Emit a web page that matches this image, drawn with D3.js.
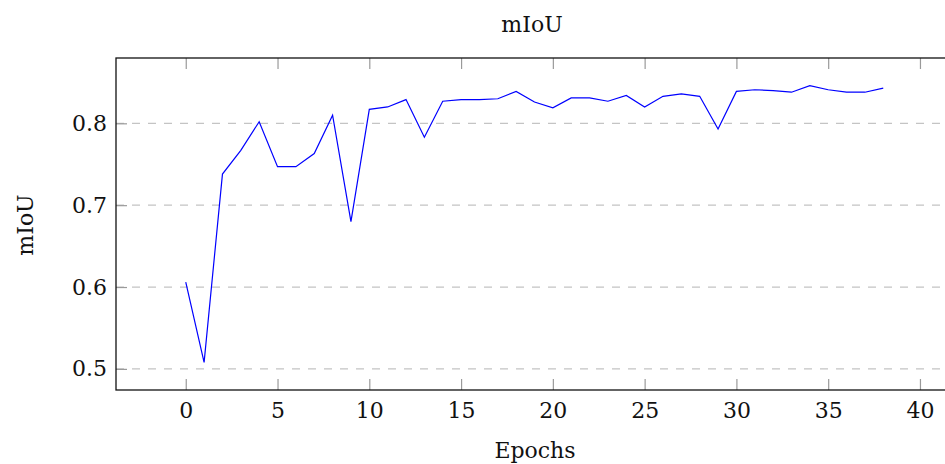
<!DOCTYPE html>
<html>
<head>
<meta charset="utf-8">
<script src="https://cdn.jsdelivr.net/npm/d3@7"></script>
<style>
  body { margin: 0; background: #fff; }
  svg text { font-family: "DejaVu Serif", "Liberation Serif", serif; fill: #111; }
</style>
</head>
<body>
<div id="g-container"></div>
<script>

	// mIoU per epoch
	var epochs = d3.range(0, 39);
	var miou = [0.606, 0.508, 0.738, 0.767, 0.802, 0.747, 0.747, 0.763, 0.810, 0.680,
		0.817, 0.820, 0.829, 0.783, 0.827, 0.829, 0.829, 0.830, 0.839, 0.826,
		0.819, 0.831, 0.831, 0.827, 0.834, 0.820, 0.833, 0.836, 0.833, 0.793,
		0.839, 0.841, 0.840, 0.838, 0.846, 0.841, 0.838, 0.838, 0.843];
	var xTicks = [0, 5, 10, 15, 20, 25, 30, 35, 40];
	var yTicks = [0.5, 0.6, 0.7, 0.8];

	var W = 945, H = 464;
	var m = {left: 116, top: 58, right: 953, bottom: 390};
	var fs = "22px";

	// pgfplots style: enlarge limits by 10% of the data range
	function enlarge(ext){
		var pad = (ext[1] - ext[0]) * 0.1;
		return [ext[0] - pad, ext[1] + pad];
	}

	var x = d3.scaleLinear().domain(enlarge(d3.extent(epochs))).range([m.left, m.right]);
	var y = d3.scaleLinear().domain(enlarge(d3.extent(miou))).range([m.bottom, m.top]);

	var svg = d3.select("#g-container").append("svg")
		.attr("width", W).attr("height", H);

	// dashed grid
	svg.append("g").selectAll("line").data(yTicks).enter().append("line")
		.attr("x1", m.left).attr("x2", m.right)
		.attr("y1", function(d){ return y(d); }).attr("y2", function(d){ return y(d); })
		.attr("stroke", "#c4c4c4").attr("stroke-width", 1.2)
		.attr("stroke-dasharray", "8,8");

	// bottom axis
	var xAxis = svg.append("g").attr("transform", "translate(0," + m.bottom + ")")
		.call(d3.axisBottom(x).tickValues(xTicks).tickSize(-11).tickPadding(12).tickFormat(d3.format("d")));
	// top ticks only
	var xTop = svg.append("g").attr("transform", "translate(0," + m.top + ")")
		.call(d3.axisTop(x).tickValues(xTicks).tickSize(-11).tickFormat(""));
	var yAxis = svg.append("g").attr("transform", "translate(" + m.left + ",0)")
		.call(d3.axisLeft(y).tickValues(yTicks).tickSize(-11).tickPadding(9).tickFormat(d3.format(".1f")));

	[xAxis, xTop, yAxis].forEach(function(a){
		a.select(".domain").remove();
		a.selectAll(".tick line").attr("stroke", "#9a9a9a").attr("stroke-width", 1.2);
		a.selectAll(".tick text").style("font-size", fs).attr("fill", "#111");
	});

	// frame
	svg.append("rect")
		.attr("x", m.left).attr("y", m.top)
		.attr("width", m.right - m.left).attr("height", m.bottom - m.top)
		.attr("fill", "none").attr("stroke", "#111").attr("stroke-width", 1.3);

	var line = d3.line()
		.x(function(d, i){ return x(epochs[i]); })
		.y(function(d){ return y(d); });

	svg.append("path").datum(miou)
		.attr("d", line)
		.attr("fill", "none").attr("stroke", "#0000ff").attr("stroke-width", 1.2)
		.attr("stroke-linejoin", "miter");

	svg.append("text").attr("x", 532).attr("y", 32).attr("text-anchor", "middle")
		.style("font-size", fs).text("mIoU");
	svg.append("text").attr("x", 535).attr("y", 458).attr("text-anchor", "middle")
		.style("font-size", fs).text("Epochs");
	svg.append("text").attr("transform", "translate(33,225) rotate(-90)").attr("text-anchor", "middle")
		.style("font-size", fs).text("mIoU");

</script>
</body>
</html>
